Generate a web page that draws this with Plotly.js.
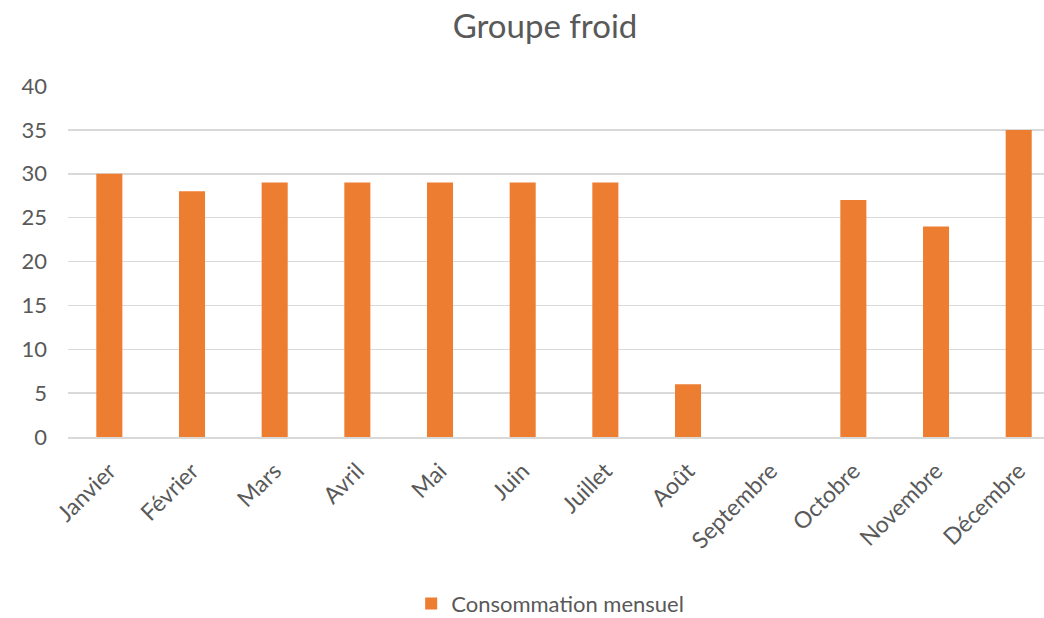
<!DOCTYPE html>
<html>
<head>
<meta charset="utf-8">
<script src="https://cdn.plot.ly/plotly-3.0.1.min.js"></script>
<style>html,body{margin:0;padding:0;background:#fff;}#chart{width:1044px;height:618px;}</style>
</head>
<body>
<div id="chart"></div>
<script>
const months = ["Janvier","Février","Mars","Avril","Mai","Juin","Juillet","Août","Septembre","Octobre","Novembre","Décembre"];
const consommation = [30, 28, 29, 29, 29, 29, 29, 6, 0, 27, 24, 35];
const yTicks = [0, 5, 10, 15, 20, 25, 30, 35, 40];

const font = "Lato, Open Sans, sans-serif";
const data = [{
  type: "bar",
  x: months,
  y: consommation,
  name: "Consommation mensuel",
  marker: {color: "#ED7D31"},
  width: 0.315
}];
const layout = {
  width: 1044, height: 618,
  margin: {l: 68, r: 0, t: 86, b: 181},
  paper_bgcolor: "#fff", plot_bgcolor: "#fff",
  font: {family: font, color: "#595959"},
  title: {text: "Groupe froid", x: 0.522, xanchor: "center", y: 0.958, yanchor: "middle",
          font: {size: 33, color: "#595959", family: font}},
  xaxis: {range: [-0.5, 11.306], tickangle: -45, tickfont: {size: 23, color: "#595959"},
          showgrid: false, showline: true, linecolor: "#d9d9d9", linewidth: 1.5, ticks: "", fixedrange: true,
          ticklabelstandoff: 10, automargin: false},
  yaxis: {range: [0, 40], tickvals: yTicks, tickfont: {size: 22, color: "#595959"},
          gridcolor: "#d9d9d9", gridwidth: 1.5, zeroline: false, showline: false, ticks: "",
          ticklabelstandoff: 20, automargin: false},
  showlegend: true,
  legend: {orientation: "h", xref: "container", yref: "container", x: 0.527, xanchor: "center",
           y: 0.023, yanchor: "middle",
           font: {size: 22, color: "#595959"}, itemwidth: 30},
  bargap: 0.685
};
Plotly.newPlot("chart", data, layout, {displayModeBar: false, staticPlot: true});
</script>
</body>
</html>
